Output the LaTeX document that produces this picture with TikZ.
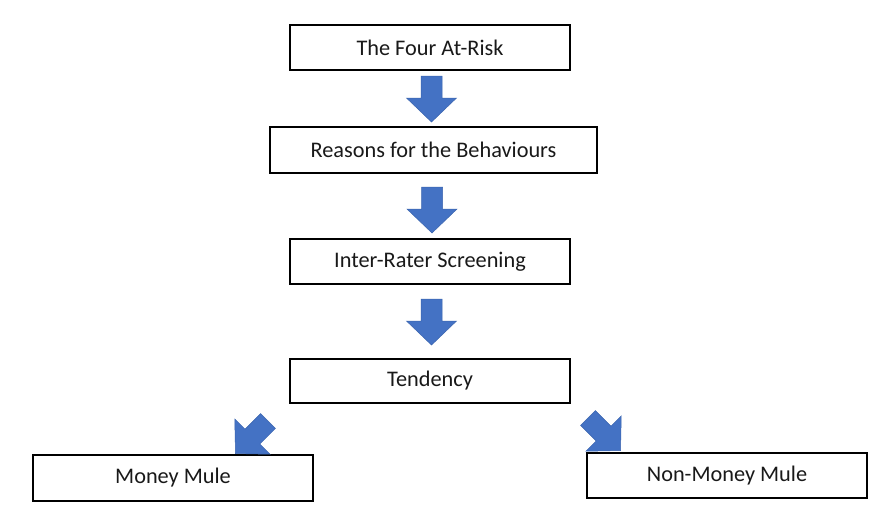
\documentclass[tikz,border=0pt]{standalone}
\usepackage{fontspec}
\setmainfont{Carlito}
\definecolor{arrowblue}{HTML}{4472C4}
\definecolor{arrowedge}{HTML}{3A64AE}
\begin{document}
\begin{tikzpicture}[x=1pt,y=-1pt,
  box/.style={draw=black,line width=1.2pt,fill=white,inner sep=0pt,
    font=\fontsize{22.3}{26}\selectfont,text=black!90},
  blk/.style={fill=arrowblue,draw=arrowedge,line width=0.5pt,line join=miter}]
\useasboundingbox[fill=white] (0,0) rectangle (893,525);
\newcommand\blockarrow[3]{%
  \begin{scope}[shift={(#1,#2)},rotate=#3]
    \draw[blk] (-10.5,0) -- (10.5,0) -- (10.5,22) -- (25,22) -- (0,46) -- (-25,22) -- (-10.5,22) -- cycle;
  \end{scope}}
\node[box,minimum width=280pt,minimum height=45pt] (risk) at (430,47.5) {The Four At-Risk};
\node[box,minimum width=327pt,minimum height=46pt] (reasons) at (433.5,150) {Reasons for the Behaviours};
\node[box,minimum width=280pt,minimum height=45pt] (screen) at (430,261.5) {Inter-Rater Screening};
\node[box,minimum width=280pt,minimum height=44pt] (tend) at (430,381) {Tendency};
\node[box,minimum width=280pt,minimum height=46pt] (mm) at (173,478) {Money Mule};
\node[box,minimum width=280pt,minimum height=45pt] (nmm) at (727,475.5) {Non-Money Mule};
\blockarrow{431.5}{76}{0}
\blockarrow{432}{187}{0}
\blockarrow{431.5}{299}{0}
\blockarrow{268}{421}{-45}
\blockarrow{588}{418}{45}
\end{tikzpicture}
\end{document}
